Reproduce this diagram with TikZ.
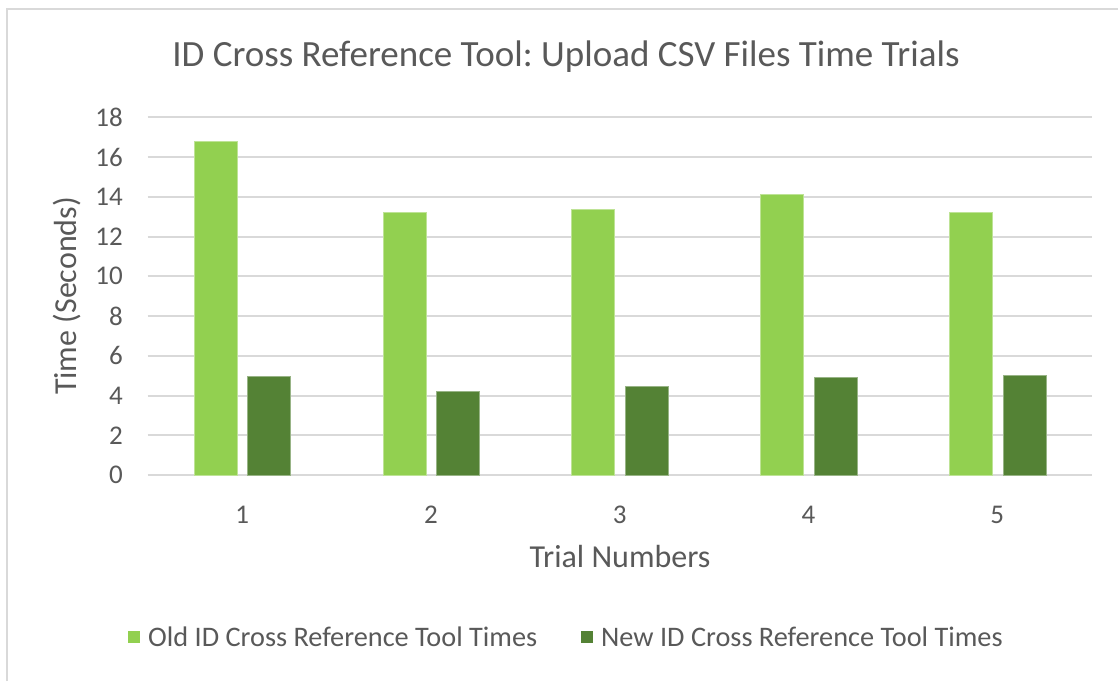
\documentclass[tikz,border=0pt]{standalone}
\usepackage{fontspec}
\setmainfont{Carlito}
\frenchspacing
\usetikzlibrary{positioning}
\definecolor{oldgreen}{HTML}{92D050}
\definecolor{newgreen}{HTML}{548235}
\definecolor{gridgray}{HTML}{D9D9D9}
\definecolor{textgray}{HTML}{595959}
\tikzset{
  gridline/.style={draw=gridgray,line width=2pt},
  oldbar/.style={fill=oldgreen,draw=oldgreen!60!white,line width=0.6pt},
  newbar/.style={fill=newgreen,draw=newgreen!60!white,line width=0.6pt},
  ticklabel/.style={text=textgray,inner sep=0pt,font=\fontsize{27}{32}\selectfont},
  axistitle/.style={text=textgray,inner sep=0pt,font=\fontsize{32}{38}\selectfont},
  keylabel/.style={text=textgray,inner sep=0pt,anchor=west,font=\fontsize{28.3}{34}\selectfont},
  keybox/.style={inner sep=0pt,minimum size=12pt}
}
\begin{document}
\begin{tikzpicture}[x=1pt,y=-1pt]
        \useasboundingbox (0,0) rectangle (1118,681);
        \fill[white] (0,0) rectangle (1118,681);
        \draw[gridgray,line width=2.5pt] (7,681) -- (7,9) -- (1118,9);
        % title
        \node[axistitle,font=\fontsize{37}{44}\selectfont] (title) at (566,57) {ID Cross Reference Tool: Upload CSV Files Time Trials};
        % gridlines and y ticks
        \foreach \v in {0,2,...,18} {
            \draw[gridline] (147.7,475-19.87*\v) -- (1091.7,475-19.87*\v);
            \node[ticklabel,anchor=east] (y\v) at (123,475-19.87*\v) {\v};
        }
        % bars
        \foreach \i/\old/\new in {1/16.77/4.98, 2/13.22/4.23, 3/13.37/4.44, 4/14.13/4.90, 5/13.22/5.00} {
            \pgfmathsetmacro{\c}{147.7+188.8*(\i-0.5)}
            \draw[oldbar] (\c-48,475) rectangle (\c-5,475-19.87*\old);
            \draw[newbar] (\c+5.5,475) rectangle (\c+48.5,475-19.87*\new);
            \node[ticklabel] (x\i) at (\c,515) {\i};
        }
        % axis titles
        \node[axistitle] (xtitle) at (620,556) {Trial Numbers};
        \node[axistitle,rotate=90] (ytitle) at (67,296) {Time (Seconds)};
        % legend
        \node[keylabel] (oldkey) at (148,637) {Old ID Cross Reference Tool Times};
        \node[keybox,fill=oldgreen,left=8pt of oldkey] (oldbox) {};
        \node[keylabel] (newkey) at (601,637) {New ID Cross Reference Tool Times};
        \node[keybox,fill=newgreen,left=8pt of newkey] (newbox) {};
\end{tikzpicture}
\end{document}
